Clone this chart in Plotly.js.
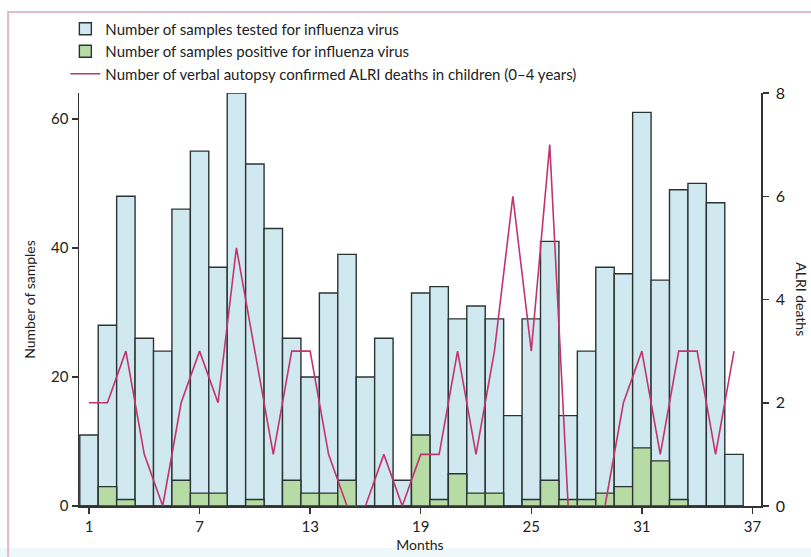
<!DOCTYPE html>
<html>
<head>
<meta charset="utf-8">
<script src="https://cdn.plot.ly/plotly-3.0.1.min.js"></script>
<style>html,body{margin:0;padding:0;background:#fff;}#chart{width:811px;height:557px;}</style>
</head>
<body>
<div id="chart"></div>
<script>
const months = Array.from({length: 36}, (_, i) => i + 1);
const tested = [11, 28, 48, 26, 24, 46, 55, 37, 64, 53, 43, 26, 20, 33, 39, 20, 26, 4,
                33, 34, 29, 31, 29, 14, 29, 41, 14, 24, 37, 36, 61, 35, 49, 50, 47, 8];
const positive = [0, 3, 1, 0, 0, 4, 2, 2, 0, 1, 0, 4, 2, 2, 4, 0, 0, 0,
                  11, 1, 5, 2, 2, 0, 1, 4, 1, 1, 2, 3, 9, 7, 1, 0, 0, 0];
const deaths = [2, 2, 3, 1, 0, 2, 3, 2, 5, 3, 1, 3, 3, 1, 0, 0, 1, 0,
                1, 1, 3, 1, 3, 6, 3, 7, 0, 0, 0, 2, 3, 1, 3, 3, 1, 3];
const xTicks = [1, 7, 13, 19, 25, 31, 37];
const leftTicks = [0, 20, 40, 60];
const rightTicks = [0, 2, 4, 6, 8];
const names = [
  'Number of samples tested for influenza virus',
  'Number of samples positive for influenza virus',
  'Number of verbal autopsy confirmed ALRI deaths in children (0\u20134 years)'
];

const FONT = 'Lato, "Open Sans", sans-serif';
const outline = {color: '#2b3434', width: 1.4};

const traces = [
  {type: 'bar', x: months, y: tested, name: names[0], width: 1,
   marker: {color: '#d0e8f0', line: outline}, hoverinfo: 'x+y'},
  {type: 'bar', x: months, y: positive, name: names[1], width: 1,
   marker: {color: '#b6dba4', line: outline}, hoverinfo: 'x+y'},
  {type: 'scatter', mode: 'lines', x: months, y: deaths, name: names[2], yaxis: 'y2',
   line: {color: '#c2346e', width: 1.6}}
];

const layout = {
  width: 811, height: 557,
  margin: {l: 79, r: 50, t: 93, b: 51},
  paper_bgcolor: '#ffffff', plot_bgcolor: '#ffffff',
  font: {family: FONT, size: 14, color: '#222'},
  barmode: 'overlay', bargap: 0,
  showlegend: true,
  legend: {x: -0.02, y: 1.195, xanchor: 'left', yanchor: 'top', orientation: 'v',
           font: {family: FONT, size: 15, color: '#222'}, bgcolor: 'rgba(0,0,0,0)',
           traceorder: 'normal', itemwidth: 30, tracegroupgap: 0},
  xaxis: {range: [0.457, 37.465], tickvals: xTicks, ticktext: xTicks.map(String),
          ticks: 'outside', ticklen: 6, tickwidth: 1.5, tickcolor: '#333',
          showline: true, linecolor: '#333', linewidth: 1.5, showgrid: false, zeroline: false,
          tickfont: {size: 15}, title: {text: 'Months', font: {size: 14}, standoff: 6}},
  yaxis: {range: [0, 64], tickvals: leftTicks, ticks: 'outside', ticklen: 6, tickwidth: 1.5,
          tickcolor: '#333', showline: true, linecolor: '#333', linewidth: 1.5,
          showgrid: false, zeroline: false, tickfont: {size: 15},
          title: {text: 'Number of samples', font: {size: 14}, standoff: 12}},
  yaxis2: {range: [0, 8], tickvals: rightTicks, overlaying: 'y', side: 'right',
           ticks: 'outside', ticklen: 6, tickwidth: 1.5, tickcolor: '#333',
           showline: true, linecolor: '#333', linewidth: 1.5, showgrid: false, zeroline: false,
           tickfont: {size: 16}, ticklabelstandoff: 4},
  annotations: [
    {text: 'ALRI deaths', xref: 'paper', yref: 'paper', x: 1.059, y: 0.5, textangle: 90,
     showarrow: false, font: {family: FONT, size: 14, color: '#222'}, xanchor: 'center', yanchor: 'middle'}
  ],
  shapes: [
    {type: 'rect', xref: 'paper', yref: 'paper', x0: -0.3, x1: 1.2, y0: -0.2, y1: -0.1017,
     fillcolor: '#eef8fa', line: {width: 0}, layer: 'below'},
    {type: 'path', xref: 'paper', yref: 'paper',
     path: 'M 1.2 1.196 L -0.104 1.196 L -0.104 -0.2',
     line: {color: '#e4b9c9', width: 2}}
  ]
};

Plotly.newPlot('chart', traces, layout, {displayModeBar: false, staticPlot: true});
</script>
</body>
</html>
